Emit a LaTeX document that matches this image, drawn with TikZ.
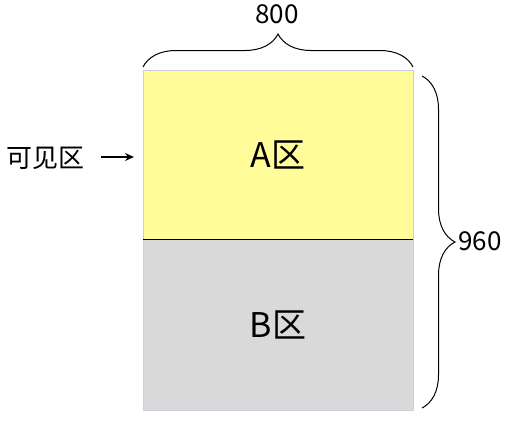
\documentclass[tikz,border=0pt]{standalone}
\usepackage{fontspec}
\setmainfont{Noto Sans CJK SC}
\usetikzlibrary{decorations.pathreplacing,positioning,arrows.meta}
\definecolor{zoneyellow}{RGB}{255,252,153}
\definecolor{zonegray}{RGB}{217,217,217}
\definecolor{zoneedge}{RGB}{200,208,220}
\tikzset{
  zone/.style={draw=zoneedge, line width=0.8pt, minimum width=270pt, inner sep=0pt,
    font=\fontsize{34}{36}\selectfont},
  bracebig/.style={decorate, decoration={brace, amplitude=33pt}, line width=1pt},
  dimlabel/.style={font=\fontsize{26}{28}\selectfont, inner sep=0pt},
}
\begin{document}
\begin{tikzpicture}[x=1pt, y=-1pt]
  \useasboundingbox (0,0) rectangle (509,431);
  % the two zones
  \node[zone, fill=zoneyellow, minimum height=169pt] (A) at (278,154.5) {A区};
  \node[zone, fill=zonegray, minimum height=171pt] (B) at (278,324.5) {B区};
  \draw[line width=1.2pt] (A.south west) -- (A.south east);
  % width
  \coordinate (tl) at (143,67);
  \coordinate (tr) at (413,67);
  \draw[bracebig] (tl) -- (tr);
  \node[dimlabel] (w) at (277,14) {800};
  % height
  \coordinate (rt) at (422,76);
  \coordinate (rb) at (422,408);
  \draw[bracebig] (rt) -- (rb);
  \node[dimlabel, anchor=west] (h) at (458,241) {960};
  % visible area
  \node[dimlabel] (vis) at (45,158) {可见区};
  \coordinate (ps) at (101,157);
  \coordinate (pt) at (134,157);
  \draw[-{Stealth[length=9pt,width=8pt]}, line width=1.3pt] (ps) -- (pt);
\end{tikzpicture}
\end{document}
